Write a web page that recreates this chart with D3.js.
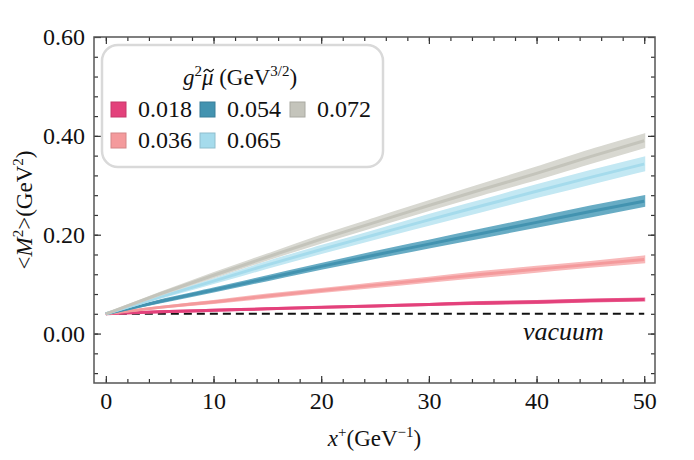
<!DOCTYPE html>
<html>
<head>
<meta charset="utf-8">
<script src="https://cdn.jsdelivr.net/npm/d3@7"></script>
<style>
  body { margin: 0; background: #fff; }
  svg text { font-family: "Liberation Serif", "DejaVu Serif", serif; fill: #111; }
</style>
</head>
<body>
<div id="chart"></div>
<script>
var width = 694, height = 460;
var margin = {top: 37, right: 39, bottom: 77, left: 94};

// x+ sample points (GeV^-1)
var xs = [0, 5, 10, 15, 20, 25, 30, 35, 40, 45, 50];

var labels = ["0.018", "0.036", "0.054", "0.065", "0.072"];

// central values <M^2> (GeV^2)
var mid018 = [0.040, 0.044, 0.047, 0.050, 0.053, 0.056, 0.059, 0.062, 0.064, 0.067, 0.069];
var mid036 = [0.040, 0.053, 0.064, 0.076, 0.087, 0.098, 0.109, 0.120, 0.130, 0.140, 0.150];
var mid054 = [0.040, 0.065, 0.088, 0.112, 0.136, 0.159, 0.181, 0.203, 0.225, 0.247, 0.268];
var mid065 = [0.040, 0.074, 0.106, 0.139, 0.170, 0.200, 0.230, 0.259, 0.288, 0.316, 0.343];
var mid072 = [0.040, 0.080, 0.118, 0.155, 0.191, 0.225, 0.259, 0.292, 0.324, 0.358, 0.390];

// band lower / upper edges
var lo018 = [0.040, 0.043, 0.046, 0.049, 0.052, 0.055, 0.058, 0.060, 0.062, 0.065, 0.067];
var hi018 = [0.040, 0.045, 0.048, 0.051, 0.054, 0.057, 0.060, 0.064, 0.066, 0.069, 0.071];
var lo036 = [0.040, 0.052, 0.062, 0.073, 0.084, 0.094, 0.105, 0.115, 0.125, 0.135, 0.144];
var hi036 = [0.040, 0.054, 0.066, 0.079, 0.090, 0.102, 0.113, 0.125, 0.135, 0.145, 0.156];
var lo054 = [0.040, 0.063, 0.085, 0.108, 0.131, 0.153, 0.174, 0.195, 0.216, 0.237, 0.258];
var hi054 = [0.040, 0.067, 0.091, 0.116, 0.141, 0.165, 0.188, 0.211, 0.234, 0.257, 0.278];
var lo065 = [0.040, 0.072, 0.102, 0.133, 0.163, 0.192, 0.220, 0.248, 0.276, 0.303, 0.330];
var hi065 = [0.040, 0.076, 0.110, 0.145, 0.177, 0.208, 0.240, 0.270, 0.300, 0.329, 0.356];
var lo072 = [0.040, 0.078, 0.114, 0.150, 0.184, 0.217, 0.250, 0.282, 0.312, 0.345, 0.377];
var hi072 = [0.040, 0.082, 0.122, 0.160, 0.198, 0.233, 0.268, 0.302, 0.336, 0.371, 0.403];

var vacuum = 0.04;

var xTicks = [0, 10, 20, 30, 40, 50];
var yTicks = [0.00, 0.20, 0.40, 0.60];

var series = [
  {label: labels[0], mid: mid018, lo: lo018, hi: hi018, line: "#e3417b", band: "#ec6b98"},
  {label: labels[1], mid: mid036, lo: lo036, hi: hi036, line: "#f49a9c", band: "#f8b8b9"},
  {label: labels[2], mid: mid054, lo: lo054, hi: hi054, line: "#4393b0", band: "#68acc4"},
  {label: labels[3], mid: mid065, lo: lo065, hi: hi065, line: "#a5dbec", band: "#c3e8f3"},
  {label: labels[4], mid: mid072, lo: lo072, hi: hi072, line: "#c4c4bb", band: "#d8d8d1"}
];

var svg = d3.select("#chart").append("svg")
  .attr("width", width)
  .attr("height", height);

var w = width - margin.left - margin.right;
var h = height - margin.top - margin.bottom;

var x = d3.scaleLinear().domain([-1.1, 51]).range([0, w]);
var y = d3.scaleLinear().domain([-0.1, 0.6]).range([h, 0]);

var g = svg.append("g")
  .attr("transform", "translate(" + margin.left + "," + margin.top + ")");

g.append("clipPath").attr("id", "clip")
  .append("rect").attr("width", w).attr("height", h);

var plot = g.append("g").attr("clip-path", "url(#clip)");

// vacuum reference
plot.append("line")
  .attr("x1", x(0)).attr("x2", x(50))
  .attr("y1", y(vacuum)).attr("y2", y(vacuum))
  .attr("stroke", "#111")
  .attr("stroke-width", 2)
  .attr("stroke-dasharray", "8,5");

var area = d3.area()
  .x(function(d) { return x(d.x); })
  .y0(function(d) { return y(d.lo); })
  .y1(function(d) { return y(d.hi); })
  .curve(d3.curveMonotoneX);

var line = d3.line()
  .x(function(d) { return x(d.x); })
  .y(function(d) { return y(d.y); })
  .curve(d3.curveMonotoneX);

series.forEach(function(s) {
  var pts = xs.map(function(v, i) { return {x: v, y: s.mid[i], lo: s.lo[i], hi: s.hi[i]}; });
  plot.append("path")
    .datum(pts)
    .attr("d", area)
    .attr("fill", s.band)
    .attr("stroke", s.band)
    .attr("stroke-width", 2);
  plot.append("path")
    .datum(pts)
    .attr("d", line)
    .attr("fill", "none")
    .attr("stroke", s.line)
    .attr("stroke-width", 3);
});

// axes, ticks inward on all sides
var minorX = d3.range(0, 51, 2);
var minorY = d3.range(-0.08, 0.6, 0.04);

function drawAxis(axis, minor, major, fmt, showLabels, transform) {
  var a = g.append("g").attr("transform", transform || null);
  a.call(axis.tickValues(minor).tickSize(-4).tickFormat(""));
  a.select(".domain").remove();
  a.selectAll("line").attr("stroke", "#333").attr("stroke-width", 1.2);
  var b = g.append("g").attr("transform", transform || null);
  b.call(axis.tickValues(major).tickSize(-7).tickPadding(9).tickFormat(showLabels ? fmt : ""));
  b.select(".domain").remove();
  b.selectAll("line").attr("stroke", "#333").attr("stroke-width", 1.2);
  b.selectAll("text").style("font-size", "24px").attr("fill", "#111")
    .style("font-family", "'Liberation Serif', serif");
  return b;
}

drawAxis(d3.axisBottom(x), minorX, xTicks, d3.format("d"), true, "translate(0," + h + ")");
drawAxis(d3.axisTop(x), minorX, xTicks, d3.format("d"), false, null);
drawAxis(d3.axisLeft(y), minorY, yTicks, d3.format(".2f"), true, null);
drawAxis(d3.axisRight(y), minorY, yTicks, d3.format(".2f"), false, "translate(" + w + ",0)");

g.append("rect")
  .attr("width", w).attr("height", h)
  .attr("fill", "none")
  .attr("stroke", "#555")
  .attr("stroke-width", 1.5);

// vacuum label
g.append("text")
  .attr("x", x(42.5))
  .attr("y", y(vacuum) + 26)
  .attr("text-anchor", "middle")
  .style("font-size", "26px")
  .style("font-style", "italic")
  .text("vacuum");

// legend
var leg = g.append("g").attr("transform", "translate(8,8)");
leg.append("rect")
  .attr("width", 281).attr("height", 122)
  .attr("rx", 16).attr("ry", 16)
  .attr("fill", "#fff")
  .attr("fill-opacity", 0.9)
  .attr("stroke", "#d9d9d9")
  .attr("stroke-width", 2.5);

var title = leg.append("text")
  .attr("x", 138).attr("y", 40)
  .attr("text-anchor", "middle")
  .style("font-size", "23px");
title.append("tspan").style("font-style", "italic").text("g");
title.append("tspan").attr("dy", -9).style("font-size", "15px").text("2");
var mu = title.append("tspan").attr("dy", 9).style("font-style", "italic").text("\u03bc");
title.append("tspan").text("\u00a0(GeV");
title.append("tspan").attr("dy", -9).style("font-size", "15px").text("3/2");
title.append("tspan").attr("dy", 9).text(")");

// tilde over mu drawn as a small path
var mb = mu.node().getBBox();
var tx = mb.x + mb.width / 2 + 1.5, ty = 40 - 14.5;
leg.append("path")
  .attr("d", "M" + (tx - 5) + "," + (ty + 1.5) +
             " Q" + (tx - 2.5) + "," + (ty - 2.5) + " " + tx + "," + ty +
             " T" + (tx + 5) + "," + (ty - 1.5))
  .attr("fill", "none")
  .attr("stroke", "#111")
  .attr("stroke-width", 1.4);

var cols = [9, 98, 188];
var rows = [57, 88];
var order = [[0, 0], [1, 0], [0, 1], [1, 1], [0, 2]];
series.forEach(function(s, i) {
  var r = rows[order[i][0]], c = cols[order[i][1]];
  leg.append("rect")
    .attr("x", c).attr("y", r)
    .attr("width", 15).attr("height", 15)
    .attr("fill", s.line)
    .attr("stroke", d3.color(s.line).darker(0.4))
    .attr("stroke-width", 1);
  leg.append("text")
    .attr("x", c + 27).attr("y", r + 15)
    .style("font-size", "24px")
    .text(s.label);
});

// axis titles
var xl = svg.append("text")
  .attr("x", margin.left + w / 2)
  .attr("y", 446)
  .attr("text-anchor", "middle")
  .style("font-size", "23px");
xl.append("tspan").style("font-style", "italic").text("x");
xl.append("tspan").attr("dy", -9).style("font-size", "15px").text("+");
xl.append("tspan").attr("dy", 9).text("(GeV");
xl.append("tspan").attr("dy", -9).style("font-size", "15px").text("\u22121");
xl.append("tspan").attr("dy", 9).text(")");

var yl = svg.append("text")
  .attr("transform", "translate(32," + (margin.top + y(0.25)) + ") rotate(-90)")
  .attr("text-anchor", "middle")
  .style("font-size", "23px");
yl.append("tspan").text("<");
yl.append("tspan").style("font-style", "italic").text("M");
yl.append("tspan").attr("dy", -9).style("font-size", "15px").text("2");
yl.append("tspan").attr("dy", 9).text(">(GeV");
yl.append("tspan").attr("dy", -9).style("font-size", "15px").text("2");
yl.append("tspan").attr("dy", 9).text(")");
</script>
</body>
</html>
